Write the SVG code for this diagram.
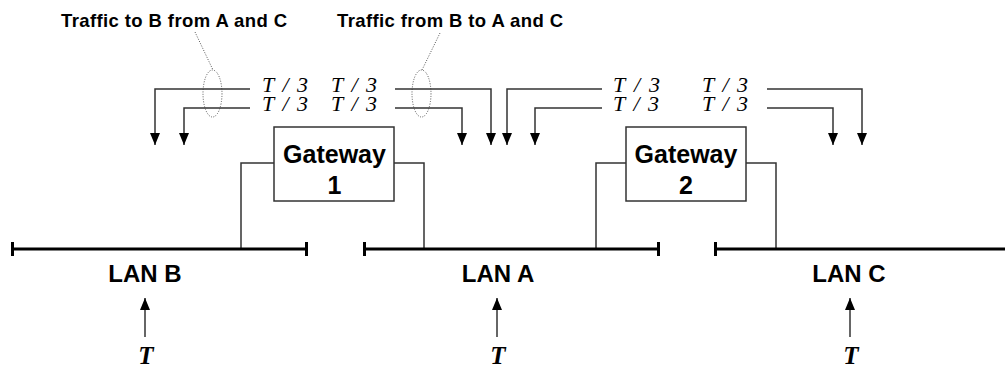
<svg xmlns="http://www.w3.org/2000/svg" width="1005" height="369" viewBox="0 0 1005 369">
<style>
.lbl{font-family:"Liberation Sans",Arial,sans-serif;font-weight:bold;fill:#000}
.top{font-size:18.5px}
.math{font-family:"Liberation Serif","Times New Roman",serif;font-style:italic;font-size:22px;fill:#000}
.bigT{font-family:"Liberation Serif","Times New Roman",serif;font-style:italic;font-weight:bold;font-size:25px;fill:#000}
.wire{fill:none;stroke:#333;stroke-width:1.5}
.box{fill:#fff;stroke:#333;stroke-width:1.5}
.bar{fill:none;stroke:#000;stroke-width:3}
.dot{fill:none;stroke:#555;stroke-width:1;stroke-dasharray:1 1.5}
</style>
<defs>
<marker id="ah" viewBox="0 -5 12 10" refX="12" refY="0" markerWidth="12" markerHeight="10" markerUnits="userSpaceOnUse" orient="auto">
<path d="M0,-5 L12,0 L0,5 z" fill="#000"/>
</marker>
</defs>

<g id="annotations">
<text class="lbl top" x="61" y="27" textLength="226" lengthAdjust="spacing">Traffic to B from A and C</text>
<text class="lbl top" x="337" y="27" textLength="226" lengthAdjust="spacing">Traffic from B to A and C</text>
<line class="dot" x1="195" y1="32" x2="213" y2="70"/>
<ellipse class="dot" cx="212.5" cy="93.5" rx="9.5" ry="23.5"/>
<line class="dot" x1="440" y1="33" x2="422" y2="70"/>
<ellipse class="dot" cx="421.5" cy="93.5" rx="9.5" ry="23.5"/>
</g>

<g id="connectors">
<path class="wire" d="M250,89 H155 V145" marker-end="url(#ah)"/>
<path class="wire" d="M250,108 H184 V145" marker-end="url(#ah)"/>
<path class="wire" d="M395,89 H491 V145" marker-end="url(#ah)"/>
<path class="wire" d="M395,108 H462 V145" marker-end="url(#ah)"/>
<path class="wire" d="M602,89 H507 V145" marker-end="url(#ah)"/>
<path class="wire" d="M602,108 H535 V145" marker-end="url(#ah)"/>
<path class="wire" d="M767,89 H862 V145" marker-end="url(#ah)"/>
<path class="wire" d="M767,108 H833 V145" marker-end="url(#ah)"/>
<path class="wire" d="M274,163 H241 V249"/>
<path class="wire" d="M394,163 H424 V249"/>
<path class="wire" d="M626,163 H596 V249"/>
<path class="wire" d="M746,163 H776 V249"/>
<path class="wire" d="M145,337 V298" marker-end="url(#ah)"/>
<path class="wire" d="M497,337 V298" marker-end="url(#ah)"/>
<path class="wire" d="M850,337 V298" marker-end="url(#ah)"/>
</g>

<g id="flow-labels">
<text class="math" x="262" y="92" textLength="46" lengthAdjust="spacing">T/3</text>
<text class="math" x="331" y="92" textLength="46" lengthAdjust="spacing">T/3</text>
<text class="math" x="262" y="111" textLength="46" lengthAdjust="spacing">T/3</text>
<text class="math" x="331" y="111" textLength="46" lengthAdjust="spacing">T/3</text>
<text class="math" x="613" y="92" textLength="47" lengthAdjust="spacing">T/3</text>
<text class="math" x="702" y="92" textLength="46" lengthAdjust="spacing">T/3</text>
<text class="math" x="613" y="111" textLength="46" lengthAdjust="spacing">T/3</text>
<text class="math" x="702" y="111" textLength="46" lengthAdjust="spacing">T/3</text>
</g>

<g id="gateway1">
<rect class="box" x="274" y="127" width="120" height="74"/>
<text class="lbl" x="334.5" y="163" font-size="25" text-anchor="middle">Gateway</text>
<text class="lbl" x="334.5" y="194" font-size="25" text-anchor="middle">1</text>
</g>

<g id="gateway2">
<rect class="box" x="626" y="127" width="120" height="74"/>
<text class="lbl" x="686" y="163" font-size="25" text-anchor="middle">Gateway</text>
<text class="lbl" x="686" y="194" font-size="25" text-anchor="middle">2</text>
</g>

<g id="lanB">
<path class="bar" d="M12,249 H307 M12.5,242 V256 M306.5,242 V256"/>
<text class="lbl" x="145" y="282" font-size="24" text-anchor="middle">LAN B</text>
<text class="bigT" x="146" y="363.5" text-anchor="middle">T</text>
</g>

<g id="lanA">
<path class="bar" d="M364,249 H659 M364.5,242 V256 M658.5,242 V256"/>
<text class="lbl" x="498" y="282" font-size="24" text-anchor="middle">LAN A</text>
<text class="bigT" x="498" y="363.5" text-anchor="middle">T</text>
</g>

<g id="lanC">
<path class="bar" d="M715,249 H1005 M715.5,242 V256"/>
<text class="lbl" x="849" y="282" font-size="24" text-anchor="middle">LAN C</text>
<text class="bigT" x="851" y="363.5" text-anchor="middle">T</text>
</g>
</svg>
